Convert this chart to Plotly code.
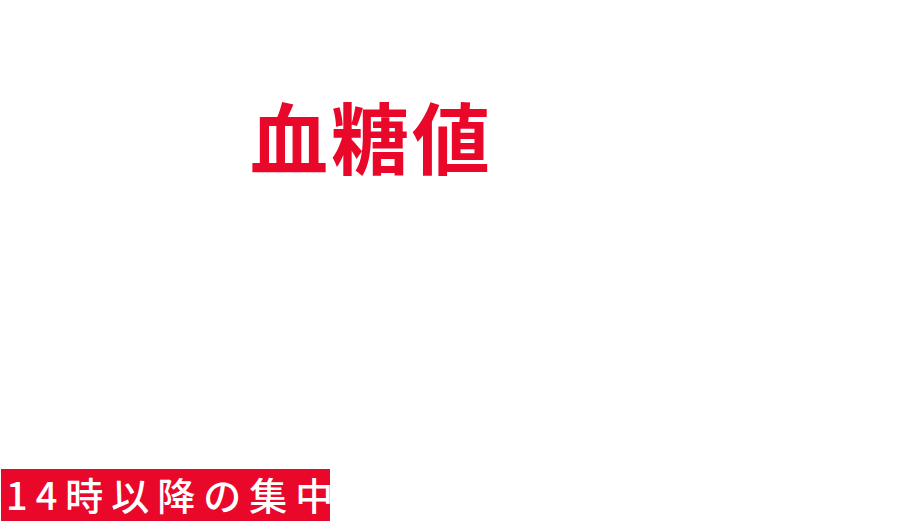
import plotly.graph_objects as go

# texts in the picture
headline = "血糖値"
tag_label = "14時以降の集中"

RED = "#E9072A"
W, H = 912, 521


def px(x):
    return x / W


def py(y):
    return 1 - y / H


fig = go.Figure()

# red tag box at the bottom left
fig.add_shape(type="rect", xref="paper", yref="paper",
              x0=px(1), x1=px(330), y0=-0.05, y1=py(469),
              fillcolor=RED, line=dict(width=0), layer="below")

fig.add_annotation(text=f'<span style="letter-spacing:3px">{headline}</span>',
                   xref="paper", yref="paper", x=px(371), y=py(135),
                   xanchor="center", yanchor="middle", showarrow=False,
                   font=dict(family="Noto Sans CJK JP", size=78, color=RED, weight=700))

fig.add_annotation(text=f'<span style="letter-spacing:8px">{tag_label}</span>',
                   xref="paper", yref="paper", x=px(4), y=py(493),
                   xanchor="left", yanchor="middle", showarrow=False,
                   font=dict(family="Noto Sans CJK JP", size=38, color="white", weight=500))

fig.update_layout(width=W, height=H, margin=dict(l=0, r=0, t=0, b=0),
                  paper_bgcolor="white", plot_bgcolor="white", showlegend=False,
                  xaxis=dict(visible=False), yaxis=dict(visible=False))

# drop the default page margin so the figure sits at the window corner
fig.write_html("out.html", config={"displayModeBar": False},
               post_script="document.body.style.margin = '0';")
